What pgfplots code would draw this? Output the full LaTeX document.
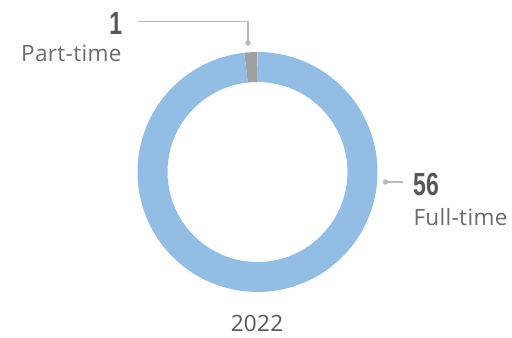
\documentclass[border=0pt]{standalone}
\usepackage{fontspec}
\setmainfont{Open Sans}[LetterSpace=1.5]
\newfontfamily\numfont[FakeStretch=0.72]{Liberation Sans}
\usepackage{pgfplots}
\usepackage{pgfplotstable}
\pgfplotsset{compat=1.18}
\definecolor{ringblue}{RGB}{146,190,230}
\definecolor{ringgray}{RGB}{160,160,160}
\definecolor{txtgray}{RGB}{108,108,108}
\definecolor{numgray}{RGB}{88,88,88}
\definecolor{leadgray}{RGB}{185,185,185}
\pgfplotstableread{
label value
Part-time 1
Full-time 56
}\donutdata
\pgfplotstablegetelem{0}{value}\of\donutdata
\let\vpart\pgfplotsretval
\pgfplotstablegetelem{1}{value}\of\donutdata
\let\vfull\pgfplotsretval
\pgfmathsetmacro{\atot}{\vpart+\vfull}
\pgfmathsetmacro{\aone}{90+\vpart/\atot*360}
\pgfmathsetmacro{\atwo}{\aone+\vfull/\atot*360}
\begin{document}
\begin{tikzpicture}
\begin{axis}[name=ax, width=512bp, height=338bp, scale only axis,
  xmin=0, xmax=512, ymin=0, ymax=338, y dir=reverse, hide axis, clip=false]
% ring segments: stroke of width 30 at radius 105 (inner 90, outer 120)
\addplot[draw=ringgray, line width=30bp, domain=90:\aone, samples=20, variable=\t]
  ({257.5+105*cos(\t)}, {172-105*sin(\t)});
\addplot[draw=ringblue, line width=30bp, domain=\aone:\atwo, samples=240, variable=\t]
  ({257.5+105*cos(\t)}, {172-105*sin(\t)});
% leaders
\addplot[draw=leadgray, line width=1.2bp, mark=none] coordinates {(138,21.7) (248,21.7) (248,43)};
\addplot[draw=leadgray, fill=leadgray, only marks, mark=*, mark size=2.4bp] coordinates {(248,43)};
\addplot[draw=leadgray, line width=1.2bp, mark=none] coordinates {(385.5,182) (403,182)};
\addplot[draw=leadgray, fill=leadgray, only marks, mark=*, mark size=2.4bp] coordinates {(385.5,182)};
% labels
\node[anchor=base east, inner sep=0, text=numgray] at (axis cs:122.5,34.3)
  {\numfont\bfseries\fontsize{32bp}{32bp}\selectfont 1};
\node[anchor=base east, inner sep=0, text=txtgray] at (axis cs:121.7,61.7)
  {\fontsize{22.5bp}{23bp}\selectfont Part-time};
\node[anchor=base west, inner sep=0, text=numgray] at (axis cs:413,195.7)
  {\numfont\bfseries\fontsize{32bp}{32bp}\selectfont 56};
\node[anchor=base west, inner sep=0, text=txtgray] at (axis cs:413.3,225)
  {\fontsize{22.5bp}{23bp}\selectfont Full-time};
\node[anchor=base, inner sep=0, text=numgray] at (axis cs:257,331.7)
  {\fontsize{22.5bp}{23bp}\selectfont 2022};
\end{axis}
\pgfresetboundingbox
\path (ax.south west) rectangle (ax.north east);
\end{tikzpicture}
\end{document}
